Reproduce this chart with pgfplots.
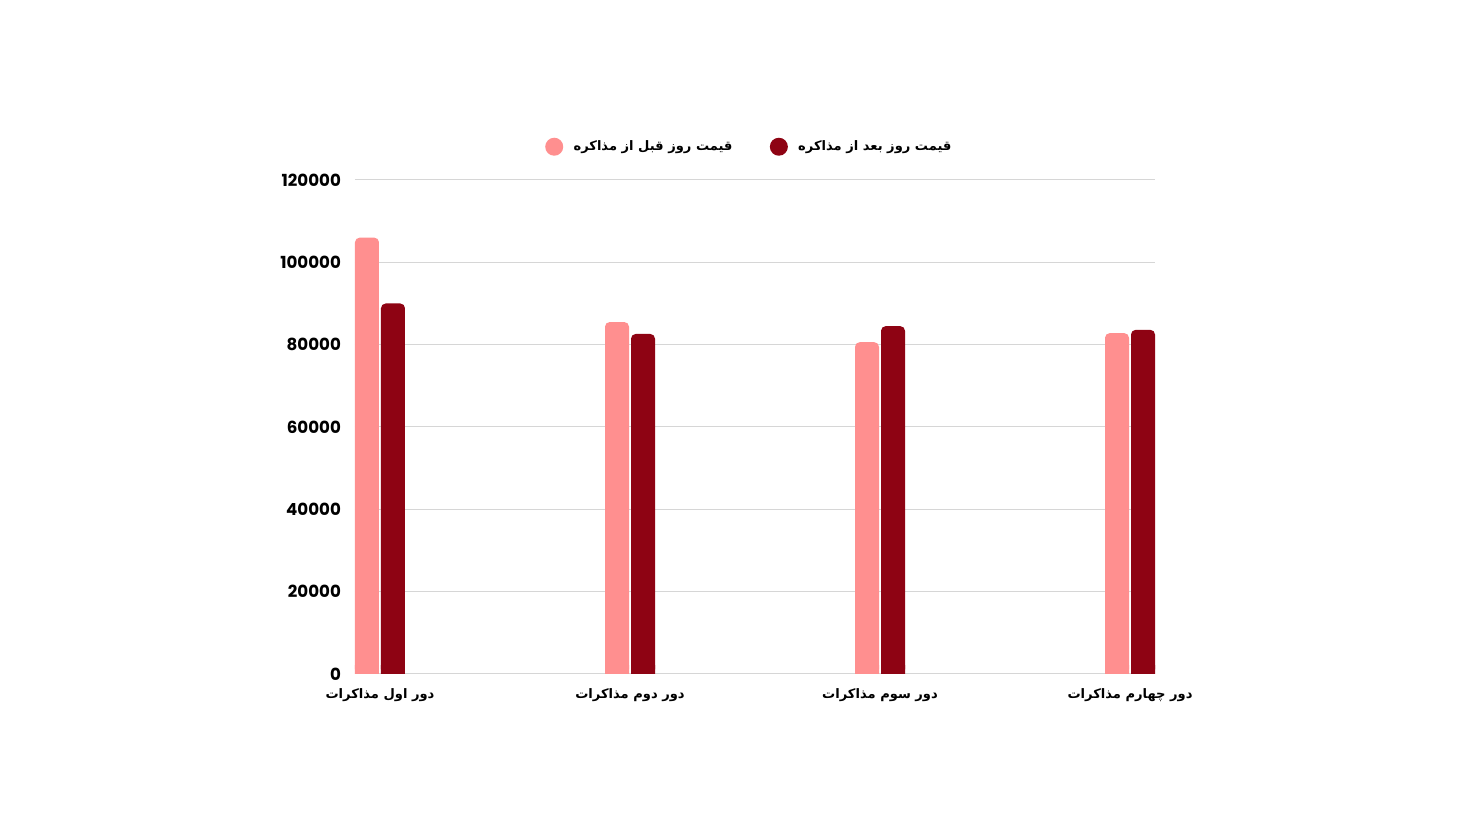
\documentclass[border=0pt]{standalone}
\usepackage{fontspec}
\usepackage{pgfplots}
\usepackage{pgfplotstable}
\pgfplotsset{compat=1.18}
\TeXXeTstate=1
\newfontfamily\arabicfont[Script=Arabic]{DejaVu Sans}
\newfontfamily\numfont{Poppins}
\definecolor{before}{RGB}{255,143,143}
\definecolor{after}{RGB}{142,3,19}
\definecolor{gridgray}{RGB}{214,214,214}

\pgfplotstableread{
x before after
0 106000 90000
1 85500  82600
2 80600  84500
3 82800  83600
}\prices

\begin{document}
\begin{tikzpicture}
\pgfplotsset{bars/.style={
    scale only axis,
    width=600pt,
    ybar=1.5pt,
    bar width=18pt,
    xmin=-0.1, xmax=3.1,
    enlarge x limits=false,
    ymin=0,
}}
\begin{axis}[
    bars,
    height=370.5pt,
    ymax=120000,
    xtick={0,1,2,3},
    xticklabels={
        {\beginR دور اول مذاکرات\endR},
        {\beginR دور دوم مذاکرات\endR},
        {\beginR دور سوم مذاکرات\endR},
        {\beginR دور چهارم مذاکرات\endR}},
    ytick={0,20000,...,120000},
    scaled y ticks=false,
    /pgf/number format/assume math mode=true,
    yticklabel style={/pgf/number format/fixed, /pgf/number format/1000 sep={},
        font=\numfont\bfseries\fontsize{12.5}{14}\selectfont, xshift=-7pt},
    xticklabel style={font=\arabicfont\bfseries\fontsize{9.8}{12}\selectfont, yshift=-3pt},
    tick style={draw=none},
    axis line style={draw=none},
    ymajorgrids,
    grid style={gridgray, line width=0.75pt},
    legend columns=2,
    legend style={at={(0.5,1)}, anchor=south, xshift=-4pt, yshift=16pt, draw=none,
        font=\arabicfont\bfseries\fontsize{9.8}{12}\selectfont,
        /tikz/every even column/.append style={column sep=26pt}},
    legend image code/.code={\fill[#1] (0pt,0pt) circle (6.75pt); \path (12.5pt,0pt);},
]
\addplot[fill=before, draw=none, rounded corners=3.5pt] table[x=x, y=before] {\prices};
\addlegendentry{\beginR قیمت روز قبل از مذاکره\endR}
\addplot[fill=after, draw=none, rounded corners=3.5pt] table[x=x, y=after] {\prices};
\addlegendentry{\beginR قیمت روز بعد از مذاکره\endR}
\coordinate (O) at (rel axis cs:0,0);
\end{axis}
% square off the bar bottoms: same bars, clipped to a thin strip at the base
\begin{axis}[
    bars,
    height=6pt,
    ymax=1943.3,
    hide axis,
]
\addplot[fill=before, draw=none] table[x=x, y=before] {\prices};
\addplot[fill=after, draw=none] table[x=x, y=after] {\prices};
\end{axis}
\pgfresetboundingbox
\path[use as bounding box] (O) ++(-266.25pt,-118.5pt) rectangle ++(1104pt,624pt);
\end{tikzpicture}
\end{document}
